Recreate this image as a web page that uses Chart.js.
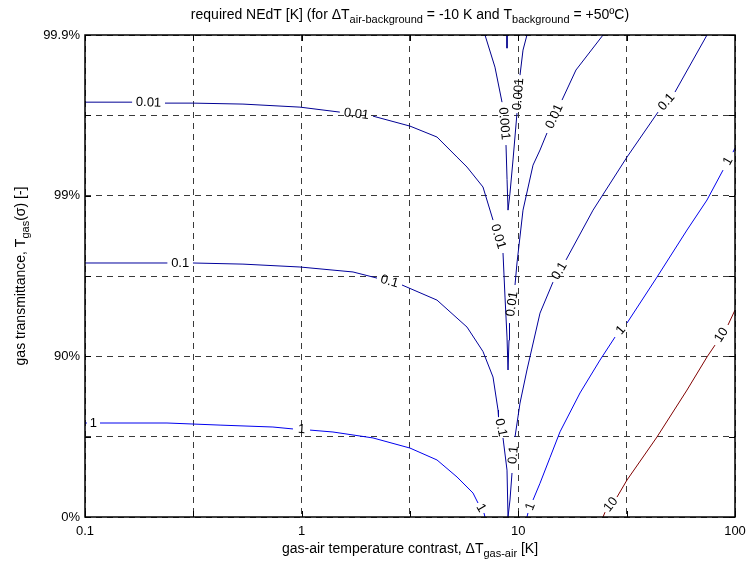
<!DOCTYPE html>
<html>
<head>
<meta charset="utf-8">
<script src="https://cdn.jsdelivr.net/npm/chart.js@4.4.1/dist/chart.umd.min.js"></script>
<style>
  html, body { margin: 0; padding: 0; background: #fff; }
</style>
</head>
<body>
<canvas id="chart" width="748" height="562"></canvas>
<script>
const FONT = '"Liberation Sans", Arial, Helvetica, sans-serif';

// axes: x is dT gas-air (log), y is -log10(1 - T) shown as transmittance %
const xTicks = [0.1, 0.3162, 1, 3.162, 10, 31.62, 100];
const xTickLabels = ['0.1', '', '1', '', '10', '', '100'];
const yTicks = [0, 0.5, 1, 1.5, 2, 2.5, 3];
const yTickLabels = ['0%', '', '90%', '', '99%', '', '99.9%'];

const titleParts = [['required NEdT [K] (for \u0394T', 0], ['air-background', 1], [' = -10 K and T', 0], ['background', 1], [' = +50\u00baC)', 0]];
const xLabelParts = [['gas-air temperature contrast, \u0394T', 0], ['gas-air', 1], [' [K]', 0]];
const yLabelParts = [['gas transmittance, T', 0], ['gas', 1], ['(\u03c3) [-]', 0]];

// contour lines: [dT, -log10(1-T)], null = gap for the inline label
const levels = ['0.001', '0.01', '0.1', '1', '10'];
const levelColors = ['#00008c', '#000094', '#00009c', '#0000ee', '#800000'];

const c0001 = [
  [[7.017, 3.0], [7.80, 2.80], [8.407, 2.582], null, [8.772, 2.315], [8.87, 2.10], [8.962, 1.910],
   [9.152, 2.016], [9.449, 2.222], [9.858, 2.514], null, [10.18, 2.75], [10.51, 2.906], [10.96, 3.0]],
  [[8.866, 3.0], [8.866, 2.918]]
];
const c001 = [
  [[0.1, 2.582], [0.165, 2.582], null, [0.234, 2.576], [0.315, 2.576], [0.536, 2.570], [0.982, 2.551],
   [1.50, 2.520], null, [2.134, 2.495], [3.162, 2.433], [4.213, 2.365], [5.212, 2.240], [5.797, 2.178],
   [6.868, 2.054], [7.641, 1.848], null, [8.497, 1.643], [8.679, 1.369], [8.866, 1.120],
   [8.962, 0.915], [9.056, 1.101], [9.104, 1.207], null, [9.652, 1.444], [9.858, 1.581], [10.51, 1.910],
   [11.69, 2.190], [12.59, 2.284], [13.56, 2.390], null, [15.91, 2.595], [18.45, 2.782], [24.60, 3.0]]
];
const c01 = [
  [[0.1, 1.581], [0.24, 1.581], null, [0.315, 1.581], [0.536, 1.574], [0.982, 1.556], [1.726, 1.525],
   [2.227, 1.487], null, [2.905, 1.444], [4.213, 1.350], [5.797, 1.182], [6.868, 1.030], [7.641, 0.871],
   [8.058, 0.666], [8.10, 0.622], null, [8.497, 0.492], [8.866, 0.292], [8.962, 0.0],
   [9.152, 0.106], [9.35, 0.274], null, [9.652, 0.498], [10.18, 0.709], [10.96, 0.915], [12.59, 1.269],
   [14.45, 1.462], null, [16.6, 1.60], [22.12, 1.910], [31.73, 2.240], [44.12, 2.520], null,
   [52.86, 2.645], [74.27, 3.0]]
];
const c1 = [
  [[0.1, 0.585], [0.1021, 0.585], null, [0.1173, 0.585], [0.239, 0.585], [0.420, 0.572], [0.737, 0.560],
   [0.912, 0.548], null, [1.093, 0.541], [1.395, 0.529], [2.134, 0.492], [3.162, 0.429], [4.213, 0.355],
   [5.212, 0.249], [6.178, 0.149], [6.514, 0.087], null, [6.94, 0.025], [7.017, 0.0]],
  [[10.96, 0.0], [11.08, 0.025], null, [11.69, 0.106], [12.59, 0.210], [14.00, 0.370], [15.57, 0.530],
   [19.26, 0.772], [23.83, 0.977], [27.94, 1.120], null, [31.73, 1.207], [43.65, 1.493], [60.04, 1.786],
   [74.27, 1.973], [88.05, 2.159], null, [97.9, 2.271], [100, 2.296]]
];
const c10 = [
  [[24.60, 0.0], [25.12, 0.03], null, [28.54, 0.124], [31.73, 0.230], [43.65, 0.498], [60.04, 0.790],
   [74.27, 0.996], [80.86, 1.070], null, [92.84, 1.195], [100, 1.288]]
];

const contours = [c0001, c001, c01, c1, c10];

function toPoints(branch) {
  let lastX = branch[0][0];
  return branch.map(p => {
    if (p === null) return { x: lastX, y: null };
    lastX = p[0];
    return { x: p[0], y: p[1] };
  });
}

const datasets = [];
contours.forEach((branches, li) => {
  branches.forEach(branch => {
    datasets.push({
      data: toPoints(branch),
      levelText: levels[li],
      borderColor: levelColors[li],
      borderWidth: 1,
      pointRadius: 0,
      tension: 0,
      spanGaps: false,
      fill: false
    });
  });
});

function drawRich(ctx, parts, cx, cy) {
  const main = '14px ' + FONT, sub = '11px ' + FONT;
  let w = 0;
  parts.forEach(([t, s]) => { ctx.font = s ? sub : main; w += ctx.measureText(t).width; });
  let x = cx - w / 2;
  ctx.textAlign = 'left';
  ctx.textBaseline = 'alphabetic';
  parts.forEach(([t, s]) => {
    ctx.font = s ? sub : main;
    ctx.fillText(t, x, s ? cy + 4 : cy);
    x += ctx.measureText(t).width;
  });
}

// inline contour labels, placed in each gap and turned along the line
const contourLabels = {
  id: 'contourLabels',
  afterDatasetsDraw(chart) {
    const { ctx, scales: { x, y } } = chart;
    ctx.save();
    ctx.font = '13px ' + FONT;
    ctx.fillStyle = '#000';
    ctx.textAlign = 'center';
    ctx.textBaseline = 'middle';
    chart.data.datasets.forEach(ds => {
      const pts = ds.data;
      pts.forEach((p, i) => {
        if (p.y !== null || i === 0 || i === pts.length - 1) return;
        const a = pts[i - 1], b = pts[i + 1];
        const x1 = x.getPixelForValue(a.x), y1 = y.getPixelForValue(a.y);
        const x2 = x.getPixelForValue(b.x), y2 = y.getPixelForValue(b.y);
        let ang = Math.atan2(y2 - y1, x2 - x1);
        if (ang > Math.PI / 2) ang -= Math.PI;
        if (ang < -Math.PI / 2) ang += Math.PI;
        ctx.save();
        ctx.translate((x1 + x2) / 2, (y1 + y2) / 2);
        ctx.rotate(ang);
        ctx.fillText(ds.levelText, 0, 0);
        ctx.restore();
      });
    });
    ctx.restore();
  }
};

// box, inward tick marks, title and axis titles
const frameAndText = {
  id: 'frameAndText',
  afterDraw(chart) {
    const { ctx, chartArea: a, scales: { x, y } } = chart;
    ctx.save();
    ctx.strokeStyle = '#000';
    ctx.lineWidth = 1;
    ctx.beginPath();
    xTicks.forEach(v => {
      const px = Math.round(x.getPixelForValue(v)) + 0.5;
      ctx.moveTo(px, a.bottom); ctx.lineTo(px, a.bottom - 6);
      ctx.moveTo(px, a.top); ctx.lineTo(px, a.top + 6);
    });
    yTicks.forEach(v => {
      const py = Math.round(y.getPixelForValue(v)) + 0.5;
      ctx.moveTo(a.left, py); ctx.lineTo(a.left + 6, py);
      ctx.moveTo(a.right, py); ctx.lineTo(a.right - 6, py);
    });
    ctx.stroke();
    ctx.lineWidth = 1.5;
    ctx.strokeRect(a.left, a.top, a.right - a.left, a.bottom - a.top);

    ctx.fillStyle = '#000';
    const cx = (a.left + a.right) / 2;
    drawRich(ctx, titleParts, cx, 19);
    drawRich(ctx, xLabelParts, cx, 553);
    ctx.translate(25, (a.top + a.bottom) / 2);
    ctx.rotate(-Math.PI / 2);
    drawRich(ctx, yLabelParts, 0, 0);
    ctx.restore();
  }
};

const tickFont = { family: FONT, size: 13 };

new Chart(document.getElementById('chart'), {
  type: 'line',
  data: { datasets },
  plugins: [contourLabels, frameAndText],
  options: {
    responsive: false,
    devicePixelRatio: 1,
    animation: false,
    layout: { padding: { top: 35, right: 13, left: 0, bottom: 0 } },
    plugins: { legend: { display: false }, tooltip: { enabled: false }, title: { display: false } },
    scales: {
      x: {
        type: 'logarithmic',
        min: 0.1,
        max: 100,
        afterBuildTicks: s => { s.ticks = xTicks.map(v => ({ value: v })); },
        afterFit: s => { s.height = 45; s.paddingLeft = 0; s.paddingRight = 0; },
        ticks: {
          autoSkip: false, maxRotation: 0, minRotation: 0, padding: 7,
          color: '#000', font: tickFont,
          callback: (v, i) => xTickLabels[i]
        },
        grid: { color: '#3a3a3a', lineWidth: 1, drawTicks: false },
        border: { display: false, dash: [6, 5] }
      },
      y: {
        type: 'linear',
        min: 0,
        max: 3,
        afterBuildTicks: s => { s.ticks = yTicks.map(v => ({ value: v })); },
        afterFit: s => { s.width = 85; s.paddingTop = 0; s.paddingBottom = 0; },
        ticks: {
          autoSkip: false, padding: 5,
          color: '#000', font: tickFont,
          callback: (v, i) => yTickLabels[i]
        },
        grid: { color: '#3a3a3a', lineWidth: 1, drawTicks: false },
        border: { display: false, dash: [6, 5] }
      }
    }
  }
});
</script>
</body>
</html>
